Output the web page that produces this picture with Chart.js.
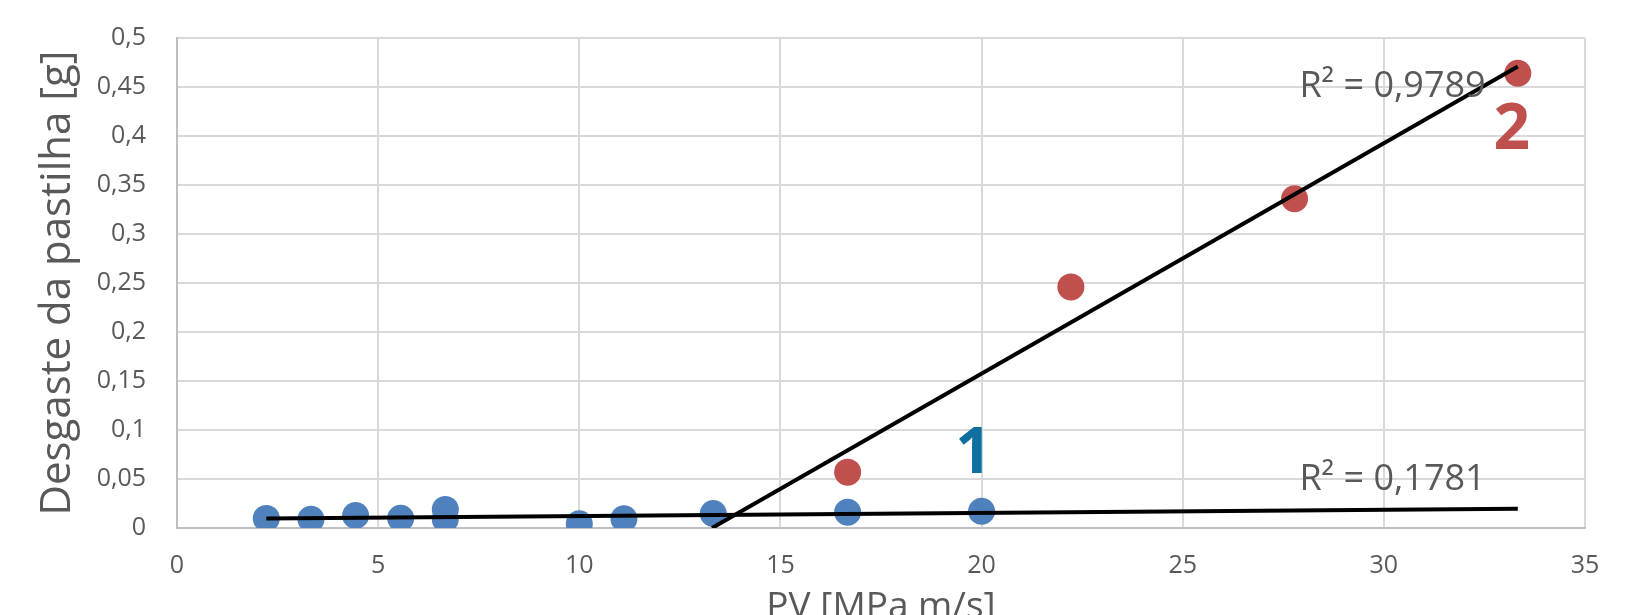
<!DOCTYPE html>
<html>
<head>
<meta charset="utf-8">
<script src="https://cdn.jsdelivr.net/npm/chart.js@4/dist/chart.umd.min.js"></script>
<style>
  body { margin: 0; background: #ffffff; }
  #wrap { width: 1630px; height: 615px; }
</style>
</head>
<body>
<div id="wrap"><canvas id="wearChart" width="1630" height="615"></canvas></div>
<script>
// series 1 (blue) - PV [MPa m/s] vs wear [g]
var blueX = [2.22, 3.33, 4.44, 5.56, 6.67, 6.67, 10, 11.11, 13.33, 16.67, 20];
var blueY = [0.0098, 0.0090, 0.0128, 0.0100, 0.0190, 0.0088, 0.0043, 0.0094, 0.0148, 0.0161, 0.0171];

// series 2 (red)
var redX = [16.67, 22.22, 27.78, 33.33];
var redY = [0.057, 0.246, 0.336, 0.464];

// trend line ends
var trend1X = [2.22, 33.33];
var trend1Y = [0.0097, 0.0196];
var trend2X = [13.3, 33.33];
var trend2Y = [0.0, 0.471];

var yTickLabels = ['0', '0,05', '0,1', '0,15', '0,2', '0,25', '0,3', '0,35', '0,4', '0,45', '0,5'];
var xTickLabels = ['0', '5', '10', '15', '20', '25', '30', '35'];

var r2Labels = ['R\u00b2 = 0,9789', 'R\u00b2 = 0,1781'];
var r2X = [27.9, 27.9];
var r2Y = [0.4394, 0.0389];

var groupLabels = ['1', '2'];
var groupX = [19.8, 33.18];
var groupY = [0.0562, 0.3865];
var groupColors = ['#0f6fa0', '#c0504d'];

function toPoints(xs, ys) {
    var pts = [];
    for (var i = 0; i < xs.length; i++) {
        pts.push({ x: xs[i], y: ys[i] });
    }
    return pts;
}

var textLabels = {
    id: 'textLabels',
    afterDatasetsDraw: function(chart) {
        var ctx = chart.ctx;
        var xs = chart.scales.x;
        var ys = chart.scales.y;
        ctx.save();
        ctx.textBaseline = 'alphabetic';

        ctx.font = '36px "Open Sans"';
        ctx.fillStyle = '#595959';
        ctx.textAlign = 'left';
        for (var i = 0; i < r2Labels.length; i++) {
            ctx.fillText(r2Labels[i], xs.getPixelForValue(r2X[i]), ys.getPixelForValue(r2Y[i]));
        }

        ctx.font = 'bold 64px "Open Sans"';
        ctx.textAlign = 'center';
        for (var j = 0; j < groupLabels.length; j++) {
            ctx.fillStyle = groupColors[j];
            ctx.fillText(groupLabels[j], xs.getPixelForValue(groupX[j]), ys.getPixelForValue(groupY[j]));
        }
        ctx.restore();
    }
};

var ctx = document.getElementById('wearChart');

new Chart(ctx, {
    type: 'scatter',
    data: {
        datasets: [{
            label: 'trend 1',
            type: 'line',
            data: toPoints(trend1X, trend1Y),
            borderColor: '#000000',
            borderWidth: 4,
            pointRadius: 0,
            fill: false,
            order: 0
        }, {
            label: 'trend 2',
            type: 'line',
            data: toPoints(trend2X, trend2Y),
            borderColor: '#000000',
            borderWidth: 4,
            pointRadius: 0,
            fill: false,
            order: 0
        }, {
            label: '2',
            data: toPoints(redX, redY),
            backgroundColor: '#c0504d',
            borderWidth: 0,
            pointRadius: 13.5,
            order: 1
        }, {
            label: '1',
            data: toPoints(blueX, blueY),
            backgroundColor: '#4f81bd',
            borderWidth: 0,
            pointRadius: 13.5,
            order: 2
        }]
    },
    options: {
        responsive: false,
        animation: false,
        layout: {
            autoPadding: false,
            padding: { top: 38, right: 45, bottom: 0, left: 0 }
        },
        plugins: {
            legend: { display: false },
            tooltip: { enabled: false }
        },
        scales: {
            x: {
                type: 'linear',
                min: 0,
                max: 35,
                afterFit: function(scale) { scale.height = 87; },
                grid: { color: '#d9d9d9', lineWidth: 2, drawTicks: false },
                border: { color: '#bfbfbf', width: 2 },
                ticks: {
                    stepSize: 5,
                    padding: 23,
                    color: '#595959',
                    font: { family: 'Open Sans', size: 25 },
                    callback: function(value, index) {
                        return xTickLabels[index];
                    }
                },
                title: {
                    display: true,
                    text: 'PV [MPa m/s]',
                    color: '#595959',
                    font: { family: 'Open Sans', size: 37, lineHeight: 0.4 },
                    padding: { top: 0, bottom: 0 }
                }
            },
            y: {
                type: 'linear',
                min: 0,
                max: 0.5,
                afterFit: function(scale) { scale.width = 177; },
                // tick marks kept invisible, their length just sets the label gap
                grid: { color: '#d9d9d9', lineWidth: 2, drawTicks: true, tickLength: 31, tickColor: 'rgba(0,0,0,0)' },
                border: { color: '#bfbfbf', width: 2 },
                ticks: {
                    stepSize: 0.05,
                    padding: 0,
                    color: '#595959',
                    font: { family: 'Open Sans', size: 25 },
                    callback: function(value, index) {
                        return yTickLabels[index];
                    }
                },
                title: {
                    display: true,
                    text: 'Desgaste da pastilha [g]',
                    color: '#595959',
                    font: { family: 'Open Sans', size: 42 },
                    padding: { top: 33, bottom: 0 }
                }
            }
        }
    },
    plugins: [textLabels]
});
</script>
</body>
</html>
